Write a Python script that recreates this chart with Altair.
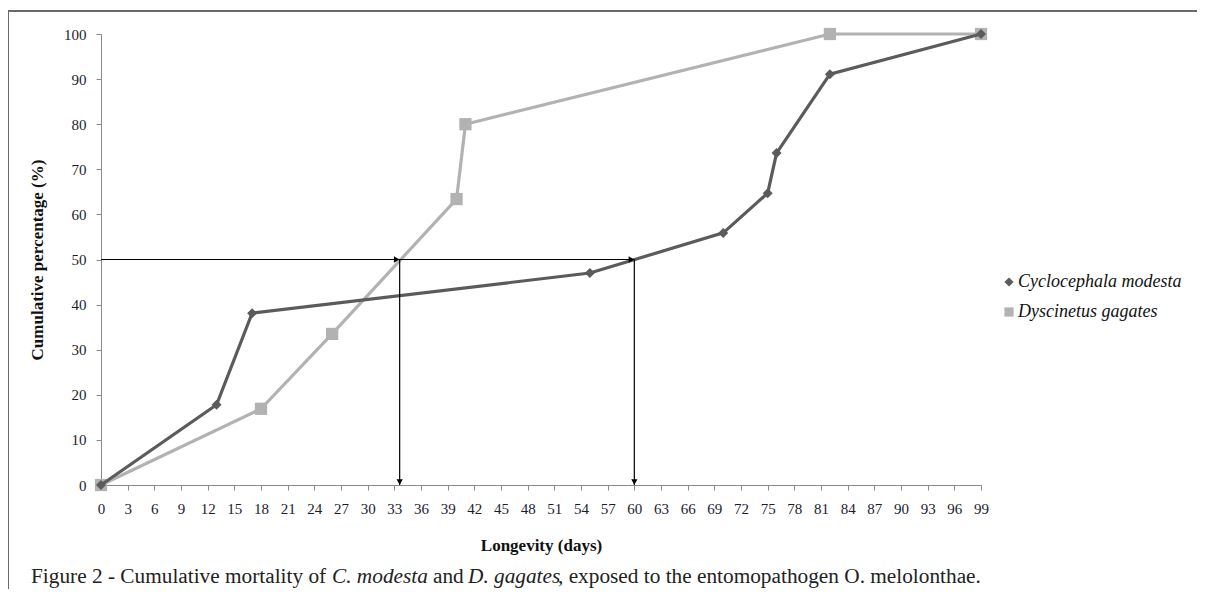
import altair as alt
import pandas as pd

# ---- data ----
cm_days = [0, 13, 17, 55, 70, 75, 76, 82, 99]
cm_pct = [0, 17.8, 38.1, 47.0, 55.9, 64.7, 73.6, 91.1, 100]
dg_days = [0, 18, 26, 40, 41, 82, 99]
dg_pct = [0, 16.9, 33.5, 63.4, 80.0, 100, 100]
series_names = ["Cyclocephala modesta", "Dyscinetus gagates"]
series_colors = ["#5b5b5b", "#b2b2b2"]
series_shapes = ["diamond", "square"]

x_ticks = list(range(0, 100, 3))
y_ticks = list(range(0, 101, 10))

# median (LT50) reference lines
lt50_days = [33.6, 60]
lt50_level = 50

caption_parts = [
    ("Figure 2 - Cumulative mortality of", "normal"),
    ("C. modesta", "italic"),
    ("and", "normal"),
    ("D. gagates", "italic"),
    (", exposed to the entomopathogen O. melolonthae.", "normal"),
]
caption_x = [31, 332, 433, 468, 558]

SERIF = "Liberation Serif"

df = pd.concat([
    pd.DataFrame({"day": cm_days, "pct": cm_pct, "series": series_names[0]}),
    pd.DataFrame({"day": dg_days, "pct": dg_pct, "series": series_names[1]}),
])

xs = alt.Scale(domain=[0, 99], nice=False, zero=True)
ys = alt.Scale(domain=[0, 100], nice=False)
col_scale = alt.Scale(domain=series_names, range=series_colors)
shp_scale = alt.Scale(domain=series_names, range=series_shapes)

x_axis = alt.Axis(values=x_ticks, grid=False, domainColor="#8a8a8a", tickColor="#8a8a8a",
                  tickSize=5, labelFont=SERIF, labelFontSize=15, labelColor="#1c1c30",
                  labelPadding=11, labelFlush=False, labelOverlap=False,
                  title="Longevity (days)", titleFont=SERIF, titleFontSize=17,
                  titleFontWeight="bold", titleColor="#111", titlePadding=21)
y_axis = alt.Axis(values=y_ticks, grid=False, domainColor="#8a8a8a", tickColor="#8a8a8a",
                  tickSize=5, labelFont=SERIF, labelFontSize=15, labelColor="#1c1c30",
                  labelPadding=10, title="Cumulative percentage (%)", titleFont=SERIF,
                  titleFontSize=17, titleFontWeight="bold", titleColor="#111", titlePadding=17)


def X(field):
    return alt.X(field, type="quantitative", scale=xs, axis=x_axis)


def Y(field):
    return alt.Y(field, type="quantitative", scale=ys, axis=y_axis)


leg = alt.Legend(title=None, orient="none", legendX=899, legendY=239,
                 labelFont=SERIF, labelFontSize=18, labelFontStyle="italic",
                 labelColor="#111", labelLimit=400, symbolSize=85, symbolStrokeWidth=0,
                 rowPadding=12, labelOffset=0)
color_enc = alt.Color("series:N", scale=col_scale, legend=leg)
shape_enc = alt.Shape("series:N", scale=shp_scale, legend=leg)

base = alt.Chart(df)

lines_light = base.transform_filter(alt.datum.series == series_names[1]).mark_line(
    strokeWidth=3.2, color=series_colors[1]).encode(x=X("day"), y=Y("pct"))
pts_light = base.transform_filter(alt.datum.series == series_names[1]).mark_point(
    filled=True, opacity=1, strokeWidth=0).encode(
    x=X("day"), y=Y("pct"), color=color_enc, shape=shape_enc, size=alt.value(150))
lines_dark = base.transform_filter(alt.datum.series == series_names[0]).mark_line(
    strokeWidth=3.2, color=series_colors[0]).encode(x=X("day"), y=Y("pct"))
pts_dark = base.transform_filter(alt.datum.series == series_names[0]).mark_point(
    filled=True, opacity=1, strokeWidth=0).encode(
    x=X("day"), y=Y("pct"), color=color_enc, shape=shape_enc, size=alt.value(100))

arrow_h = alt.Chart(pd.DataFrame({"x0": [0], "x1": [max(lt50_days)], "y": [lt50_level]})).mark_rule(
    color="black", strokeWidth=1.2).encode(x=X("x0"), x2="x1:Q", y=Y("y"))
arrow_v = alt.Chart(pd.DataFrame({"x": lt50_days, "y0": [lt50_level] * 2, "y1": [0, 0]})).mark_rule(
    color="black", strokeWidth=1.2).encode(x=X("x"), y=Y("y0"), y2="y1:Q")
head_r = alt.Chart(pd.DataFrame({"x": lt50_days, "y": [lt50_level] * 2})).mark_point(
    shape="triangle-right", filled=True, color="black", opacity=1, size=40, xOffset=-3).encode(
    x=X("x"), y=Y("y"))
head_d = alt.Chart(pd.DataFrame({"x": lt50_days, "y": [0, 0]})).mark_point(
    shape="triangle-down", filled=True, color="black", opacity=1, size=40, yOffset=-3).encode(
    x=X("x"), y=Y("y"))

one = pd.DataFrame({"k": [0]})
frame_top = alt.Chart(one).mark_rule(color="#6a6a6a", strokeWidth=2).encode(
    x=alt.value(-93), x2=alt.value(1110), y=alt.value(-23))
frame_left = alt.Chart(one).mark_rule(color="#6a6a6a", strokeWidth=2).encode(
    x=alt.value(-93), y=alt.value(-24), y2=alt.value(600))

caption_layers = []
for (txt, style), cx in zip(caption_parts, caption_x):
    caption_layers.append(
        alt.Chart(one).mark_text(text=txt, font=SERIF, fontSize=21.3, fontStyle=style,
                                 align="left", baseline="alphabetic", color="#222").encode(
            x=alt.value(cx - 101), y=alt.value(583 - 34)))

chart = alt.layer(
    lines_light, pts_light, lines_dark, pts_dark,
    arrow_h, arrow_v, head_r, head_d,
    frame_top, frame_left,
    *caption_layers,
).properties(
    width=880, height=451,
    autosize=alt.AutoSizeParams(type="none"),
    padding={"left": 93, "top": 26, "right": 216, "bottom": 104},
    background="white",
).configure_view(stroke=None)

chart.save("out.html", embed_options={"renderer": "svg", "actions": False})
